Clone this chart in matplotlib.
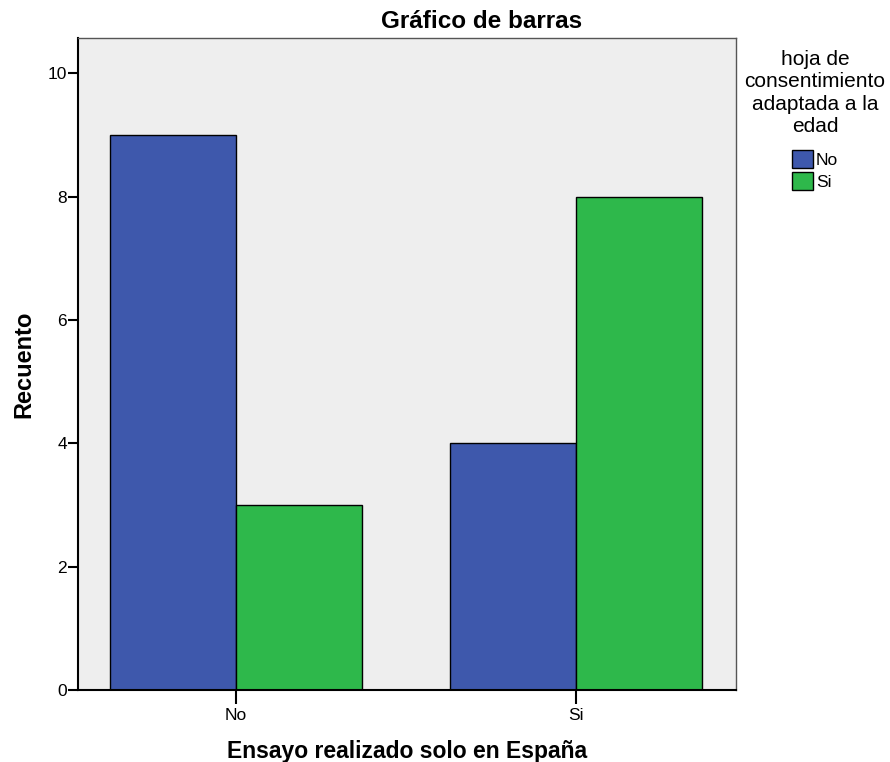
import numpy as np
import matplotlib
matplotlib.use("Agg")
from matplotlib import pyplot as plt

plt.rcParams['font.family'] = ['Liberation Sans', 'DejaVu Sans']

categorias = ["No", "Si"]
serie_no = [9, 4]   # hoja de consentimiento = No
serie_si = [3, 8]   # hoja de consentimiento = Si
leyenda = ["No", "Si"]
colores = ["#3e58ac", "#2eb84b"]

fig = plt.figure(figsize=(8.9, 7.62), dpi=100)
ax = fig.add_axes([78 / 890, 72 / 762, 658 / 890, 652 / 762])
ax.set_facecolor("#eeeeee")

x = np.arange(len(categorias))
w = 0.3706
ax.bar(x - w / 2, serie_no, w, color=colores[0], edgecolor="black", linewidth=1.0, label=leyenda[0])
ax.bar(x + w / 2, serie_si, w, color=colores[1], edgecolor="black", linewidth=1.0, label=leyenda[1])

ax.set_xlim(-0.465, 1.471)
ax.set_ylim(0, 10.57)
ax.set_yticks([0, 2, 4, 6, 8, 10])
ax.set_xticks(x)
ax.set_xticklabels(categorias)
ax.tick_params(axis="y", direction="out", length=7, width=1.5, labelsize=12.5, pad=1)
ax.tick_params(axis="x", direction="out", length=10, width=1.5, labelsize=12.5, pad=3)

for s in ["left", "bottom"]:
    ax.spines[s].set_linewidth(1.5)
    ax.spines[s].set_color("black")
for s in ["top", "right"]:
    ax.spines[s].set_linewidth(1.0)
    ax.spines[s].set_color("#555555")

ax.set_title("Gráfico de barras", fontsize=17.5, fontweight="bold", pad=7, x=0.614)
ax.set_xlabel("Ensayo realizado solo en España", fontsize=16.5, fontweight="bold", labelpad=12)
ax.set_ylabel("Recuento", fontsize=17, fontweight="bold", labelpad=9)

leg = ax.legend(title="hoja de\nconsentimiento\nadaptada a la\nedad", loc="upper center",
                bbox_to_anchor=(1.12, 1.0), frameon=False, fontsize=12.5,
                title_fontsize=15, handlelength=1.2, handleheight=1.2,
                handletextpad=0.2, labelspacing=0.25, borderaxespad=0.3)
leg._legend_box.align = "center"
leg._legend_box.sep = 10
leg.get_title().set_multialignment("center")
leg.get_title().set_linespacing(1.22)
for h in leg.legend_handles:
    h.set_edgecolor("black")

plt.savefig("out.png", dpi=100)
